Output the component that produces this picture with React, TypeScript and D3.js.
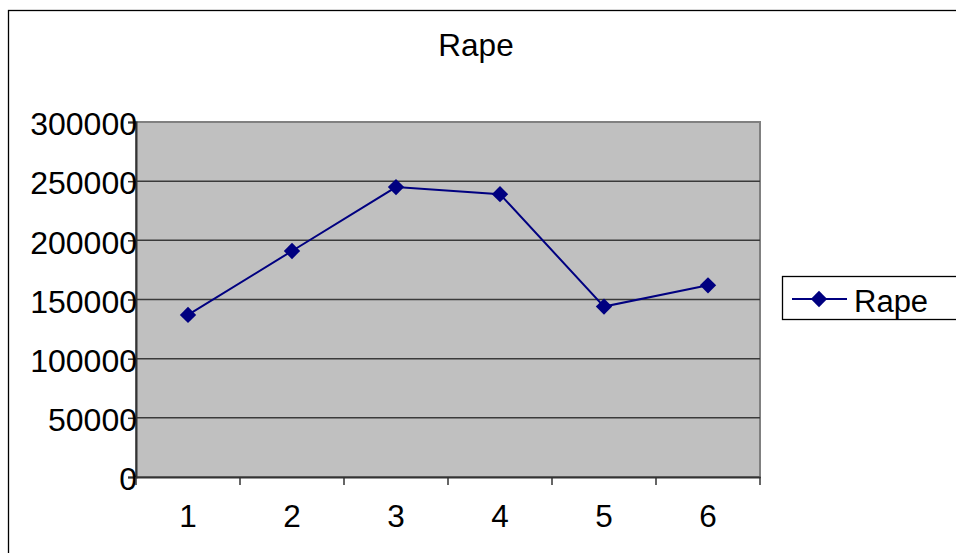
import { useEffect, useRef } from 'react';
import * as d3 from 'd3';

// chart values
const categories: string[] = ['1', '2', '3', '4', '5', '6'];
const rapeValues: number[] = [137000, 191000, 245000, 239000, 144000, 162000];
const yTicks: number[] = [0, 50000, 100000, 150000, 200000, 250000, 300000];
const seriesName = 'Rape';
const chartTitle = 'Rape';

const App: React.FC = () => {
  const chartRef = useRef<SVGSVGElement | null>(null);

  useEffect(() => {
    if (!chartRef.current) return;
    const svg = d3.select(chartRef.current);
    svg.selectAll('*').remove();

    const W = 956;
    const H = 553;
    const plot = { left: 136, top: 122, right: 760, bottom: 477 };
    const font = '"Liberation Sans", Arial, sans-serif';

    svg.attr('width', W).attr('height', H);

    // outer chart border (cropped at right / bottom)
    svg.append('rect')
      .attr('x', 8.5)
      .attr('y', 10.5)
      .attr('width', W + 20)
      .attr('height', H + 20)
      .attr('fill', '#fff')
      .attr('stroke', '#000')
      .attr('stroke-width', 1.3);

    const x = d3.scaleBand<string>()
      .domain(categories)
      .range([plot.left, plot.right]);

    const y = d3.scaleLinear()
      .domain([0, 300000])
      .range([plot.bottom, plot.top]);

    // plot background
    svg.append('rect')
      .attr('x', plot.left)
      .attr('y', plot.top)
      .attr('width', plot.right - plot.left)
      .attr('height', plot.bottom - plot.top)
      .attr('fill', '#c0c0c0')
      .attr('stroke', '#808080')
      .attr('stroke-width', 2);

    // gridlines
    svg.append('g')
      .selectAll('line')
      .data(yTicks.filter(t => t > 0 && t < 300000))
      .enter().append('line')
      .attr('x1', plot.left)
      .attr('x2', plot.right)
      .attr('y1', d => y(d))
      .attr('y2', d => y(d))
      .attr('stroke', '#3a3a3a')
      .attr('stroke-width', 1.5);

    // Y-axis
    const yAxis = svg.append('g')
      .attr('class', 'y-axis')
      .attr('transform', `translate(${plot.left},0)`)
      .call(d3.axisLeft(y).tickValues(yTicks).tickSize(8).tickPadding(0).tickFormat(d => String(d)));
    yAxis.select('.domain').attr('stroke', '#333').attr('stroke-width', 2);
    yAxis.selectAll('.tick line').attr('stroke', '#333').attr('stroke-width', 1.5);
    yAxis.selectAll('.tick text')
      .attr('x', 1)
      .attr('dy', '0.4em')
      .attr('fill', '#000')
      .style('font-family', font)
      .style('font-size', '32px');

    // X-axis
    const xAxis = svg.append('g')
      .attr('class', 'x-axis')
      .attr('transform', `translate(0,${plot.bottom})`)
      .call(d3.axisBottom(x).tickSize(0).tickPadding(28));
    xAxis.select('.domain').attr('stroke', '#333').attr('stroke-width', 2);
    xAxis.selectAll('.tick text')
      .attr('fill', '#000')
      .style('font-family', font)
      .style('font-size', '31.5px');

    // category separator ticks
    const boundaries = categories.map(c => x(c)!).concat([plot.right]);
    svg.append('g')
      .selectAll('line')
      .data(boundaries)
      .enter().append('line')
      .attr('x1', d => d)
      .attr('x2', d => d)
      .attr('y1', plot.bottom)
      .attr('y2', plot.bottom + 8)
      .attr('stroke', '#333')
      .attr('stroke-width', 1.5);

    const cx = (i: number) => x(categories[i])! + x.bandwidth() / 2;
    const diamond = d3.symbol().type(d3.symbolDiamond2).size(170);

    // line
    const line = d3.line<number>()
      .x((_, i) => cx(i))
      .y(d => y(d));
    svg.append('path')
      .datum(rapeValues)
      .attr('d', line)
      .attr('fill', 'none')
      .attr('stroke', '#000080')
      .attr('stroke-width', 2);

    // markers
    svg.append('g')
      .selectAll('path')
      .data(rapeValues)
      .enter().append('path')
      .attr('d', diamond)
      .attr('transform', (d, i) => `translate(${cx(i)},${y(d)})`)
      .attr('fill', '#000080');

    // title
    svg.append('text')
      .attr('x', 476)
      .attr('y', 56)
      .attr('text-anchor', 'middle')
      .style('font-family', font)
      .style('font-size', '31.5px')
      .text(chartTitle);

    // legend
    const lg = svg.append('g').attr('transform', 'translate(782,276)');
    lg.append('rect')
      .attr('x', 0.5)
      .attr('y', 0.5)
      .attr('width', 190)
      .attr('height', 43)
      .attr('fill', '#fff')
      .attr('stroke', '#000')
      .attr('stroke-width', 1.3);
    lg.append('line')
      .attr('x1', 10)
      .attr('x2', 65)
      .attr('y1', 23)
      .attr('y2', 23)
      .attr('stroke', '#000080')
      .attr('stroke-width', 2);
    lg.append('path')
      .attr('d', diamond)
      .attr('transform', 'translate(37,23)')
      .attr('fill', '#000080');
    lg.append('text')
      .attr('x', 72)
      .attr('y', 36)
      .style('font-family', font)
      .style('font-size', '31px')
      .text(seriesName);
  }, []);

  return (
    <svg ref={chartRef} style={{ position: 'absolute', left: 0, top: 0, display: 'block' }}></svg>
  );
};

export default App;
